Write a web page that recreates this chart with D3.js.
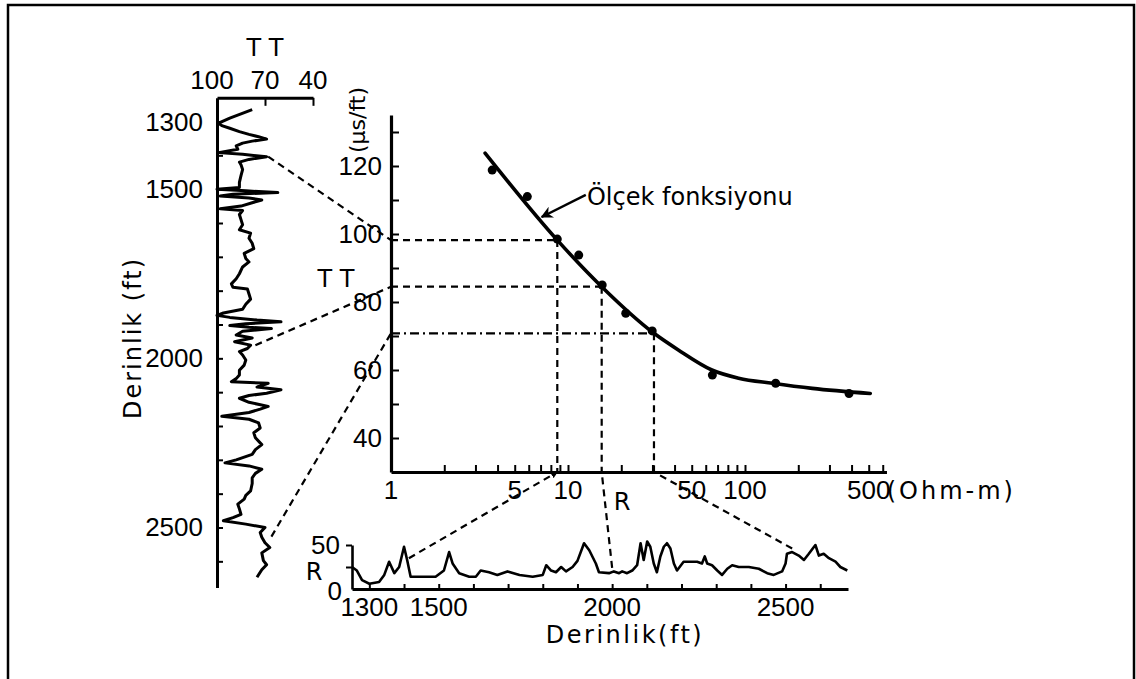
<!DOCTYPE html>
<html>
<head>
<meta charset="utf-8">
<script src="https://cdn.jsdelivr.net/npm/d3@7"></script>
<style>
html,body{margin:0;padding:0;background:#fff;}
svg{display:block;}
.num{font-family:"Liberation Sans",Arial,sans-serif;font-size:26px;fill:#000;}
.word{font-family:"DejaVu Sans",sans-serif;font-size:24px;fill:#000;}
</style>
</head>
<body>
<svg id="chart" width="1136" height="679"></svg>
<script>
// ---------- DATA ----------
// Left well log: transit time (TT, µs/ft) vs depth (ft)
const logDepth = [1265,1290,1305,1312,1320,1330,1338,1345,1352,1358,1364,1372,1382,1392,1397,1404,1412,1420,1428,1442,1460,1480,1495,1500,1505,1510,1515,1520,1526,1532,1540,1550,1558,1563,1575,1590,1605,1620,1630,1645,1660,1676,1690,1705,1715,1730,1750,1765,1780,1790,1795,1810,1825,1840,1855,1866,1873,1879,1887,1892,1898,1903,1908,1912,1920,1931,1940,1951,1961,1971,1980,1990,2005,2020,2035,2049,2060,2069,2074,2085,2093,2103,2110,2118,2130,2142,2150,2160,2171,2180,2191,2206,2220,2235,2255,2270,2284,2300,2309,2318,2328,2340,2353,2370,2392,2405,2416,2431,2445,2461,2471,2480,2490,2500,2515,2529,2545,2559,2575,2598,2610,2625,2647];
const logTT    = [78,92,99,97,92,86,80,74,69,78,84,88,87,99,84,69,80,86,85,84,85,86,86,100,82,62,90,98,80,72,78,85,98,84,86,85,84,86,79,80,78,77,83,82,80,84,86,88,91,90,81,80,79,82,84,96,100,92,75,60,82,92,80,66,84,88,78,89,79,81,86,84,82,83,86,86,88,91,68,75,60,69,80,86,80,68,73,80,97,80,74,73,77,76,72,76,78,88,95,80,72,76,78,78,79,82,83,87,86,85,90,96,82,70,73,72,70,67,72,71,69,72,75];

// Bottom log: resistivity R (Ohm-m) vs depth (ft)
const rDepth = [1250,1264,1279,1300,1328,1343,1357,1372,1386,1400,1409,1419,1443,1491,1515,1530,1540,1559,1588,1607,1621,1645,1669,1698,1733,1771,1800,1810,1824,1838,1853,1867,1886,1900,1919,1934,1953,1962,1991,2005,2020,2029,2043,2058,2072,2082,2091,2101,2110,2120,2129,2139,2149,2158,2168,2178,2187,2206,2226,2245,2259,2267,2274,2288,2303,2317,2332,2346,2365,2394,2423,2447,2466,2490,2500,2504,2519,2538,2553,2567,2586,2596,2610,2625,2644,2658,2678];
const rValue = [25,21,10,6,8,16,31,18,25,48,33,14,14,14,21,42,29,18,14,14,21,19,16,20,16,14,16,27,21,19,25,20,25,32,52,44,29,19,18,20,18,20,18,21,27,52,33,54,48,29,19,37,48,52,46,29,21,31,31,31,29,37,29,27,21,16,23,27,25,25,23,18,16,20,29,40,42,38,33,40,50,38,40,35,31,25,21];

// Cross-plot: scaling function (Ölçek fonksiyonu) TT vs R
const curveR  = [3.4,8.7,15.5,30.6,42,65,92,143,240,510];
const curveTT = [123.8,98.2,84.5,70.8,65.9,60.0,57.6,56.1,54.6,53.1];
const pointR  = [3.73,5.89,8.7,11.5,15.6,21.2,29.9,65.4,149,387];
const pointTT = [118.8,111,98.5,93.8,85,76.7,71.5,58.5,56.1,53.1];

// Worked examples: TT picked on log -> R -> depth on R log
const exLogDepth = [1404,1961,2527];
const exLogTT    = [68,76,66];
const exTT       = [98.2,84.5,70.8];
const exR        = [8.7,15.5,30.6];
const exRDepth   = [1414,2000,2519];
const exRValue   = [35,24,46];

// Tick labels
const mainXLabels = [1,5,10,50,100,500];
const mainYLabels = [40,60,80,100,120];
const ttTopLabels = [100,70,40];
const depthLeftLabels = [1300,1500,2000,2500];
const depthBottomLabels = [1300,1500,2000,2500];

// ---------- DRAWING ----------
const svg = d3.select("#chart");
const defs = svg.append("defs");
defs.append("marker").attr("id","arrow").attr("viewBox","0 0 10 10")
  .attr("refX",9).attr("refY",5).attr("markerWidth",7).attr("markerHeight",7)
  .attr("orient","auto-start-reverse").attr("markerUnits","userSpaceOnUse")
  .append("path").attr("d","M0,0 L10,5 L0,10 z").attr("fill","#000");
defs.append("marker").attr("id","arrowBig").attr("viewBox","0 0 10 10")
  .attr("refX",9).attr("refY",5).attr("markerWidth",16).attr("markerHeight",12)
  .attr("orient","auto").attr("markerUnits","userSpaceOnUse")
  .append("path").attr("d","M0,0 L10,5 L0,10 L3,5 z").attr("fill","#000");

// frame
svg.append("rect").attr("x",8).attr("y",5).attr("width",1126).attr("height",720)
  .attr("fill","none").attr("stroke","#000").attr("stroke-width",2.5);

// scales
const xMain = d3.scaleLog().domain([1,630]).range([391, 391+177*Math.log10(630)]);
const yMain = d3.scaleLinear().domain([30,135]).range([472,115]);
const xTT = d3.scaleLinear().domain([100,40]).range([217,313]);
const yDepth = d3.scaleLinear().domain([1230,2677]).range([121.5+(1230-1300)*0.33833, 121.5+(2677-1300)*0.33833]);
const xDepthR = d3.scaleLinear().domain([1250,2680]).range([352,848]);
const yR = d3.scaleLinear().domain([0,50]).range([589,545]);

function styleAxis(g, w){
  g.selectAll("path.domain").attr("stroke","#000").attr("stroke-width",w);
  g.selectAll(".tick line").attr("stroke","#000").attr("stroke-width",2);
  g.selectAll(".tick text").remove();
}

// ----- Main cross-plot axes -----
const minorX = [];
[1,10,100].forEach(b=>{for(let k=1;k<=9;k++){const v=b*k; if(v<=600) minorX.push(v);}});
const gx = svg.append("g").attr("transform",`translate(0,${yMain(30)})`)
  .call(d3.axisBottom(xMain).tickValues(minorX).tickSizeInner(-7).tickSizeOuter(0).tickFormat(""));
styleAxis(gx,3.2);
const gy = svg.append("g").attr("transform",`translate(${xMain(1)},0)`)
  .call(d3.axisLeft(yMain).tickValues(d3.range(40,131,10)).tickSizeInner(-8).tickSizeOuter(0).tickFormat(""));
styleAxis(gy,3.2);

svg.selectAll(".mxl").data(mainXLabels).join("text").attr("class","num")
  .attr("x",d=>xMain(d)).attr("y",yMain(30)+27).attr("text-anchor","middle").text(d=>d);
svg.append("text").attr("class","word").attr("x",xMain(500)+18).attr("y",yMain(30)+27)
  .attr("letter-spacing","3").text("(Ohm-m)");
svg.selectAll(".myl").data(mainYLabels).join("text").attr("class","num")
  .attr("x",xMain(1)-9).attr("y",d=>yMain(d)+9).attr("text-anchor","end").text(d=>d);
svg.append("text").attr("class","word").style("font-size","22px")
  .attr("transform",`translate(${xMain(1)-26},120) rotate(-90)`).attr("text-anchor","middle").text("(µs/ft)");
svg.append("text").attr("class","word").attr("x",336).attr("y",287).attr("text-anchor","middle").text("T T");
svg.append("text").attr("class","word").attr("x",622).attr("y",510).attr("text-anchor","middle").text("R");

// guide lines (horizontal + vertical)
exTT.forEach((tt,i)=>{
  const dash = i===2 ? "9,4,2,4" : "7,5";
  svg.append("line").attr("x1",xMain(1)).attr("y1",yMain(tt)).attr("x2",xMain(exR[i])).attr("y2",yMain(tt))
    .attr("stroke","#000").attr("stroke-width",2.2).attr("stroke-dasharray",dash);
  svg.append("line").attr("x1",xMain(exR[i])).attr("y1",yMain(tt)).attr("x2",xMain(exR[i])).attr("y2",yMain(30))
    .attr("stroke","#000").attr("stroke-width",2.2).attr("stroke-dasharray","7,5");
});

// curve
const curveData = curveR.map((r,i)=>({r, tt:curveTT[i]}));
svg.append("path").datum(curveData)
  .attr("d", d3.line().x(d=>xMain(d.r)).y(d=>yMain(d.tt)).curve(d3.curveMonotoneX))
  .attr("fill","none").attr("stroke","#000").attr("stroke-width",3.6).attr("stroke-linecap","round");
svg.selectAll(".pt").data(pointR.map((r,i)=>({r,tt:pointTT[i]}))).join("circle")
  .attr("cx",d=>xMain(d.r)).attr("cy",d=>yMain(d.tt)).attr("r",4.5).attr("fill","#000");

// annotation
svg.append("text").attr("class","word").attr("x",xMain(12.8)).attr("y",yMain(108.5)).text("Ölçek fonksiyonu");
svg.append("line").attr("x1",xMain(12.6)).attr("y1",yMain(111.5)).attr("x2",xMain(7.1)).attr("y2",yMain(105))
  .attr("stroke","#000").attr("stroke-width",2.4).attr("marker-end","url(#arrowBig)");

// ----- Left TT log -----
const gl = svg.append("g").attr("transform",`translate(${xTT(100)},0)`)
  .call(d3.axisRight(yDepth).tickValues(d3.range(1300,2601,100)).tickSizeInner(6).tickSizeOuter(0).tickFormat(""));
styleAxis(gl,3);
const gt = svg.append("g").attr("transform",`translate(0,${yDepth(1230)})`)
  .call(d3.axisTop(xTT).tickValues([70,40]).tickSizeInner(-8).tickSizeOuter(0).tickFormat(""));
styleAxis(gt,3);
svg.selectAll(".ttl").data(ttTopLabels).join("text").attr("class","num")
  .attr("x",d=>xTT(d)-(d===100?5:0)).attr("y",yDepth(1230)-9).attr("text-anchor","middle").text(d=>d);
svg.append("text").attr("class","word").attr("x",xTT(70)).attr("y",56).attr("text-anchor","middle").text("T T");
svg.selectAll(".dll").data(depthLeftLabels).join("text").attr("class","num")
  .attr("x",xTT(100)-14).attr("y",d=>yDepth(d)+9).attr("text-anchor","end").text(d=>d);
svg.append("text").attr("class","word").attr("letter-spacing","2")
  .attr("transform",`translate(141,338) rotate(-90)`).attr("text-anchor","middle").text("Derinlik (ft)");

const logData = logDepth.map((d,i)=>({d, tt:logTT[i]}));
svg.append("path").datum(logData)
  .attr("d", d3.line().x(d=>xTT(d.tt)).y(d=>yDepth(d.d)))
  .attr("fill","none").attr("stroke","#000").attr("stroke-width",3).attr("stroke-linejoin","round");

// ----- Bottom R log -----
const gbx = svg.append("g").attr("transform",`translate(0,${yR(0)})`)
  .call(d3.axisBottom(xDepthR).tickValues(d3.range(1300,2601,100)).tickSizeInner(-5).tickSizeOuter(0).tickFormat(""));
styleAxis(gbx,3.2);
const gby = svg.append("g").attr("transform",`translate(${xDepthR(1250)},0)`)
  .call(d3.axisLeft(yR).tickValues([25,50]).tickSizeInner(6).tickSizeOuter(0).tickFormat(""));
styleAxis(gby,2.6);
svg.append("text").attr("class","num").attr("x",xDepthR(1250)-12).attr("y",yR(50)+9).attr("text-anchor","end").text("50");
svg.append("text").attr("class","num").attr("x",xDepthR(1250)-10).attr("y",yR(0)+11).attr("text-anchor","end").text("0");
svg.append("text").attr("class","word").attr("x",314).attr("y",580).attr("text-anchor","middle").text("R");
svg.selectAll(".dbl").data(depthBottomLabels).join("text").attr("class","num")
  .attr("x",d=>xDepthR(d)).attr("y",yR(0)+27).attr("text-anchor","middle").text(d=>d);
svg.append("text").attr("class","word").attr("letter-spacing","2.5")
  .attr("x",625).attr("y",643).attr("text-anchor","middle").text("Derinlik(ft)");

const rData = rDepth.map((d,i)=>({d, r:rValue[i]}));
svg.append("path").datum(rData)
  .attr("d", d3.line().x(d=>xDepthR(d.d)).y(d=>yR(d.r)))
  .attr("fill","none").attr("stroke","#000").attr("stroke-width",2.6).attr("stroke-linejoin","round");

// ----- connectors -----
exLogDepth.forEach((dep,i)=>{
  svg.append("line").attr("x1",xTT(exLogTT[i])).attr("y1",yDepth(dep))
    .attr("x2",xMain(1)).attr("y2",yMain(exTT[i]))
    .attr("stroke","#000").attr("stroke-width",2.2).attr("stroke-dasharray","7,5");
  svg.append("line").attr("x1",xDepthR(exRDepth[i])).attr("y1",yR(exRValue[i]))
    .attr("x2",xMain(exR[i])).attr("y2",yMain(30))
    .attr("stroke","#000").attr("stroke-width",2.2).attr("stroke-dasharray","7,5")
    .attr("marker-end", i===0 ? "url(#arrow)" : null);
});
</script>
</body>
</html>
